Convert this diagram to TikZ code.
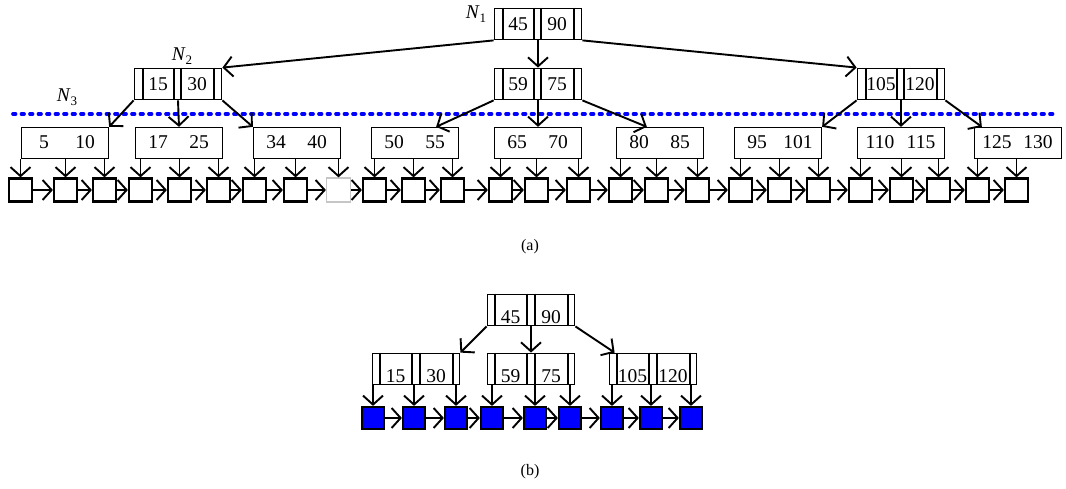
\documentclass[tikz,border=0pt]{standalone}
\usepackage{fontspec}
\setmainfont{Liberation Serif}
\usetikzlibrary{arrows.meta}
\tikzset{
  ibox/.style={draw, line width=1.8pt, minimum width=87pt, minimum height=31pt, inner sep=0pt},
  ilin/.style={line width=1.8pt},
  lbox/.style={draw, line width=1.3pt, minimum width=87pt, minimum height=31pt, inner sep=0pt},
  key/.style={inner sep=0pt, font=\fontsize{19.5}{19.5}\selectfont},
  sqa/.style={draw, line width=2.2pt, minimum size=23pt, inner sep=0pt, fill=white},
  sqgray/.style={draw=gray!45, line width=1.2pt, minimum size=24pt, inner sep=0pt},
  sqb/.style={draw, line width=2.2pt, fill=blue, minimum size=22pt, inner sep=0pt},
  arr/.style={line width=1.9pt, -{Straight Barb[length=9pt,width=20pt]}},
  lbl/.style={inner sep=0pt, font=\fontsize{16}{16}\selectfont},
  nlbl/.style={inner sep=0pt, font=\fontsize{19.5}{19.5}\selectfont},
  dotline/.style={draw=blue, line width=3.7pt, line cap=round, dash pattern=on 2.5pt off 6pt},
}
% internal node, part (a): name, x-left, y-top, key1, key2
\newcommand\inode[5]{%
  \node[ibox] (#1) at (#2+44,#3+16) {};
  \foreach \o in {9,40,47,80} \draw[ilin] ([xshift=\o pt]#1.north west) -- ([xshift=\o pt]#1.south west);
  \node[key] (#1a) at ([xshift=24.5pt]#1.west) {#4};
  \node[key] (#1b) at ([xshift=63.5pt]#1.west) {#5};
}
% internal node, part (b): keys set low in the cells
\newcommand\inodeb[5]{%
  \node[ibox] (#1) at (#2+44,#3+16) {};
  \foreach \o in {8,40,48,81} \draw[ilin] ([xshift=\o pt]#1.north west) -- ([xshift=\o pt]#1.south west);
  \node[key, anchor=base] (#1a) at ([xshift=24pt,yshift=2.5pt]#1.south west) {#4};
  \node[key, anchor=base] (#1b) at ([xshift=64.5pt,yshift=2.5pt]#1.south west) {#5};
}
% leaf node: name, x-left, y-top, key1, key2
\newcommand\lnode[5]{%
  \node[lbox] (#1) at (#2+44,#3+16) {};
  \node[key] (#1a) at ([xshift=-21pt,yshift=1pt]#1.center) {#4};
  \node[key] (#1b) at ([xshift=20pt,yshift=1pt]#1.center) {#5};
}
\begin{document}
\begin{tikzpicture}[x=1pt,y=-1pt]
\useasboundingbox (0,0) rectangle (1066,489);

% dotted level line
\coordinate (dl) at (13,114);
\coordinate (dr) at (1057,114);
\draw[dotline] (dl) -- (dr);

% ---------- part (a) ----------
\inode{n1}{494}{8}{45}{90}
\inode{n2}{134}{68}{15}{30}
\inode{nc}{494}{68}{59}{75}
\inode{nr}{857}{68}{105}{120}

\node[nlbl] (N1l) at (476,14) {\textit{N}\raisebox{-3.5pt}{\fontsize{13}{13}\selectfont 1}};
\node[nlbl] (N2l) at (182,56) {\textit{N}\raisebox{-3.5pt}{\fontsize{13}{13}\selectfont 2}};
\node[nlbl] (N3l) at (67,97) {\textit{N}\raisebox{-3.5pt}{\fontsize{13}{13}\selectfont 3}};

\lnode{l1}{21}{127}{5}{10}
\lnode{l2}{135}{127}{17}{25}
\lnode{l3}{253}{127}{34}{40}
\lnode{l4}{371}{127}{50}{55}
\lnode{l5}{494}{127}{65}{70}
\lnode{l6}{616}{127}{80}{85}
\lnode{l7}{734}{127}{95}{101}
\lnode{l8}{857}{127}{110}{115}
\lnode{l9}{974}{127}{125}{130}

\draw[arr] (n1.south west) -- (n2.north east);
\draw[arr] (n1.south) -- (nc.north);
\draw[arr] (n1.south east) -- (nr.north west);
\draw[arr] (n2.south west) -- (l1.north east);
\draw[arr] (n2.south) -- (l2.north);
\draw[arr] (n2.south east) -- (l3.north west);
\draw[arr] (nc.south west) -- ([xshift=-23pt]l4.north east);
\draw[arr] (nc.south) -- (l5.north);
\draw[arr] (nc.south east) -- ([xshift=31pt]l6.north west);
\draw[arr] (nr.south west) -- (l7.north east);
\draw[arr] (nr.south) -- (l8.north);
\draw[arr] (nr.south east) -- ([xshift=8pt]l9.north west);

% data pages (a)
\foreach \x [count=\i] in {8,53,92,128,167,206,242,283}
  \node[sqa] (a\i) at (\x+12.5,190) {};
\node[sqgray] (a9) at (338.5,190) {};
\foreach \x [count=\i from 10] in {362,401,440,488,524,566,608,644,685,728,767,806,848,889,926,965,1004}
  \node[sqa] (a\i) at (\x+12.5,190) {};
\foreach \i in {1,...,25} {
  \pgfmathtruncatemacro\j{\i+1}
  \draw[arr] (a\i.east) -- (a\j.west);
}
\foreach \l/\s in {l1/1,l1/2,l1/3,l2/4,l2/5,l2/6,l3/7,l3/8,l3/9,l4/10,l4/11,l4/12,l5/13,l5/14,l5/15,l6/16,l6/17,l6/18,l7/19,l7/20,l7/21,l8/22,l8/23,l8/24,l9/25,l9/26}
  \draw[arr] (a\s.north |- \l.south) -- (a\s.north);

\node[lbl] (capa) at (530,247) {(a)};

% ---------- part (b) ----------
\inodeb{t}{487}{294}{45}{90}
\inodeb{b1}{372}{353}{15}{30}
\inodeb{b2}{487}{353}{59}{75}
\inodeb{b3}{609}{353}{105}{120}

\draw[arr] (t.south west) -- (b1.north east);
\draw[arr] (t.south) -- (b2.north);
\draw[arr] (t.south east) -- ([xshift=6pt]b3.north west);

\foreach \x [count=\i] in {361,402,444,480,523,558,600,639,679}
  \node[sqb] (c\i) at (\x+12,418) {};
\foreach \i in {1,...,8} {
  \pgfmathtruncatemacro\j{\i+1}
  \draw[arr] (c\i.east) -- (c\j.west);
}
\foreach \b/\s in {b1/1,b1/2,b1/3,b2/4,b2/5,b2/6,b3/7,b3/8,b3/9}
  \draw[arr] (c\s.north |- \b.south) -- (c\s.north);

\node[lbl] (capb) at (530,472) {(b)};
\end{tikzpicture}
\end{document}
